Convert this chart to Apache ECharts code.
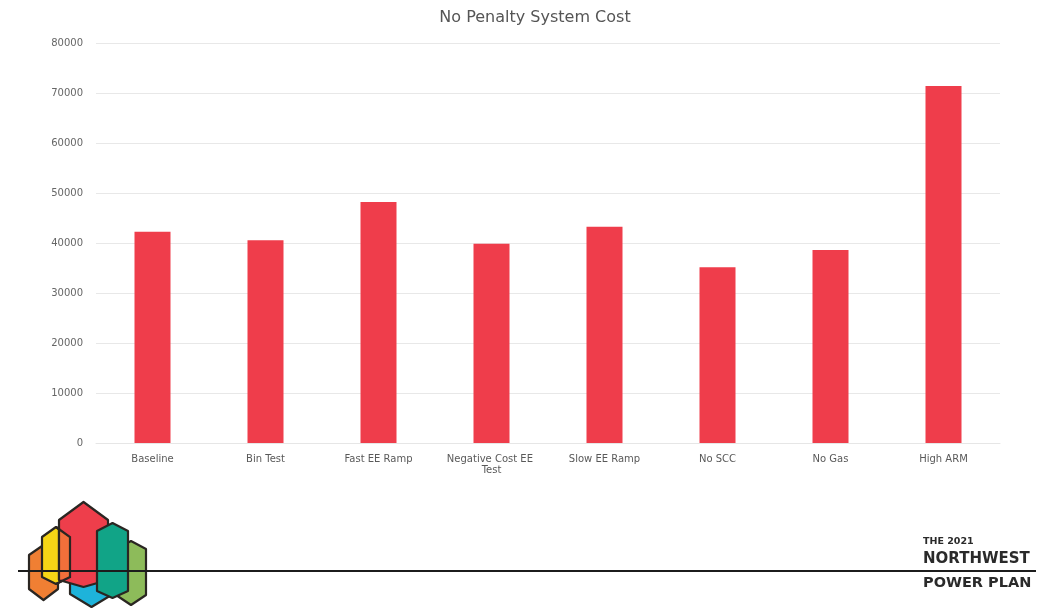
<!DOCTYPE html>
<html>
<head>
<meta charset="utf-8">
<script src="https://cdn.jsdelivr.net/npm/echarts@6/dist/echarts.min.js"></script>
<style>
html,body{margin:0;padding:0;background:#fff;}
#c{width:1048px;height:608px;}
</style>
</head>
<body>
<div id="c"></div>
<script>
var categories = ['Baseline', 'Bin Test', 'Fast EE Ramp', 'Negative Cost EE Test', 'Slow EE Ramp', 'No SCC', 'No Gas', 'High ARM'];
var costValues = [42260, 40540, 48200, 39860, 43260, 35140, 38600, 71400];
var yTicks = [0, 10000, 20000, 30000, 40000, 50000, 60000, 70000, 80000];

var chart = echarts.init(document.getElementById('c'));

function hexPts(x1, x2, yTop, yShoulder, yLow, yBottom) {
  var cx = (x1 + x2) / 2;
  return [[x1, yShoulder], [cx, yTop], [x2, yShoulder], [x2, yLow], [cx, yBottom], [x1, yLow]];
}
var stroke = '#2a2622';
var yellowPts = hexPts(42, 70, 527, 537, 577, 584);
var logoShapes = [
  {pts: hexPts(29, 58, 545, 555, 589, 600), color: '#F07F33'},
  {pts: yellowPts, color: '#F6D516'},
  {pts: hexPts(70, 113, 545, 555, 594, 607), color: '#1EB3DA'},
  {pts: hexPts(59, 108, 502, 520, 580, 587), color: '#EE3E4B'},
  {pts: hexPts(116, 146, 541, 549, 595, 605), color: '#8DBB5A'},
  {pts: hexPts(97, 128, 523, 531, 591, 598), color: '#11A487'}
];
var children = [];
logoShapes.forEach(function (s) {
  children.push({type: 'polygon', shape: {points: s.pts}, style: {fill: s.color, stroke: stroke, lineWidth: 2.2, lineJoin: 'round'}});
  if (s.color === '#EE3E4B') {
    children.push({type: 'polygon', shape: {points: [[59, 530], [70, 537], [70, 577], [59, 580]]}, style: {fill: '#F26F3A', stroke: null}});
    children.push({type: 'polyline', shape: {points: [yellowPts[1], yellowPts[2], yellowPts[3], yellowPts[4]]}, style: {fill: null, stroke: stroke, lineWidth: 2.2}});
    children.push({type: 'polyline', shape: {points: [[59, 528], [59, 580]]}, style: {fill: null, stroke: stroke, lineWidth: 2.2}});
  }
});
var graphics = [{type: 'group', left: 0, top: 0, bounding: 'raw', children: children, z: 10}];
graphics.push({type: 'line', shape: {x1: 18, y1: 571, x2: 1036, y2: 571}, style: {stroke: '#1c1c1c', lineWidth: 2}, z: 21});
graphics.push({type: 'text', x: 923, y: 542, style: {text: 'THE 2021', fill: '#2a2a2a', font: 'bold 9.5px "DejaVu Sans"', verticalAlign: 'middle', textVerticalAlign: 'middle'}, z: 21});
graphics.push({type: 'text', x: 923, y: 559, style: {text: 'NORTHWEST', fill: '#2a2a2a', font: 'bold 15px "DejaVu Sans"', verticalAlign: 'middle', textVerticalAlign: 'middle'}, z: 21});
graphics.push({type: 'text', x: 923, y: 583, style: {text: 'POWER PLAN', fill: '#2a2a2a', font: 'bold 14.5px "DejaVu Sans"', verticalAlign: 'middle', textVerticalAlign: 'middle'}, z: 21});

chart.setOption({
  animation: false,
  backgroundColor: '#ffffff',
  title: {
    text: 'No Penalty System Cost',
    left: 530,
    top: 5,
    textAlign: 'center',
    textStyle: {color: '#555555', fontSize: 16, fontWeight: 'normal', fontFamily: 'DejaVu Sans'}
  },
  grid: {left: 96, right: 48, top: 43, bottom: 165, containLabel: false},
  xAxis: {
    type: 'category',
    data: categories,
    axisLine: {show: true, lineStyle: {color: '#e6e6e6'}},
    axisTick: {show: false},
    axisLabel: {
      color: '#595959', fontSize: 10, fontFamily: 'DejaVu Sans', margin: 11, interval: 0,
      width: 105, overflow: 'break', lineHeight: 11
    }
  },
  yAxis: {
    type: 'value',
    min: yTicks[0],
    max: yTicks[yTicks.length - 1],
    interval: yTicks[1] - yTicks[0],
    axisLine: {show: false},
    axisTick: {show: false},
    axisLabel: {color: '#666666', fontSize: 10, fontFamily: 'DejaVu Sans', margin: 13,
      formatter: function (v) { return String(v); }},
    splitLine: {lineStyle: {color: '#e8e8e8', width: 1}}
  },
  series: [{
    type: 'bar',
    data: costValues,
    barWidth: 36,
    itemStyle: {color: '#EF3D4B'}
  }],
  graphic: graphics
});
</script>
</body>
</html>
